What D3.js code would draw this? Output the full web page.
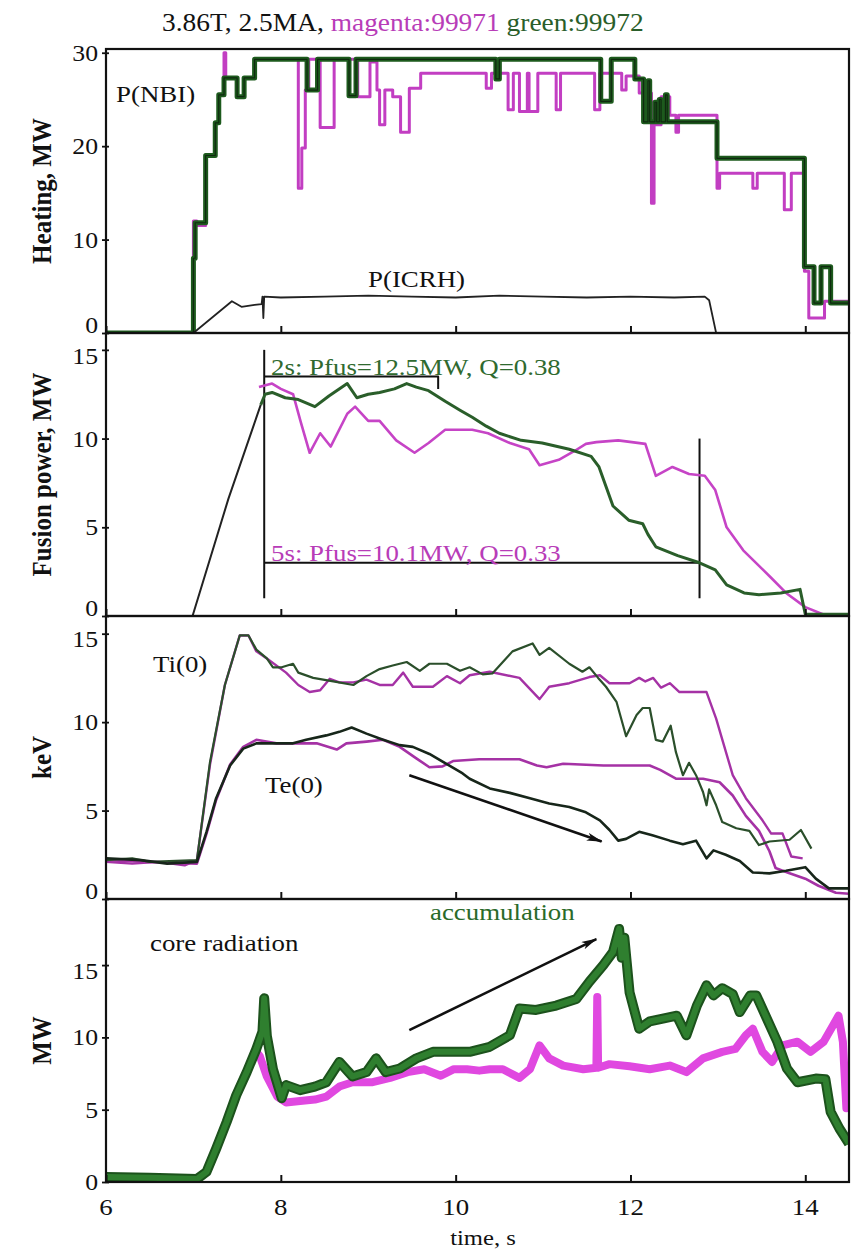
<!DOCTYPE html>
<html><head><meta charset="utf-8">
<script src="https://cdn.jsdelivr.net/npm/d3@7"></script>
<style>body{margin:0;background:#fff}svg{display:block}</style>
</head><body><svg id="c" width="851" height="1252"></svg>
<script>
// ---------- data ----------
const timeTicks = [6, 8, 10, 12, 14];
const heatTicks = [0, 10, 20, 30];
const fusTicks = [0, 5, 10, 15];
const kevTicks = [0, 5, 10, 15];
const radTicks = [0, 5, 10, 15];

// Panel 1: NBI power (step traces), ICRH
const nbiGreen = [[6,0],[7.0,8.0],[7.02,11.8],[7.14,19.0],[7.25,22.5],[7.29,25.5],[7.35,27.3],[7.5,25.3],[7.58,27.3],[7.70,29.3],[8.30,26.0],[8.42,29.3],[8.78,25.4],[8.86,29.3],[10.46,27.2],[10.5,29.3],[11.66,24.8],[11.78,29.3],[12.05,27.2],[12.15,22.6],[12.2,27.0],[12.22,22.6],[12.28,24.7],[12.3,22.6],[12.33,25.0],[12.35,22.6],[12.4,25.5],[12.42,22.6],[12.99,18.7],[13.99,7.1],[14.10,3.2],[14.18,7.1],[14.29,3.2],[14.5,3.2]];
const nbiMagenta = [[6,0],[7.0,12.0],[7.04,11.5],[7.14,19.0],[7.25,22.5],[7.29,25.5],[7.35,30.0],[7.37,27.3],[7.5,25.3],[7.58,27.3],[7.70,29.3],[8.20,15.5],[8.24,19.8],[8.28,26.0],[8.32,29.3],[8.45,22.0],[8.61,29.3],[8.88,25.3],[9.02,29.0],[9.10,26.0],[9.13,22.3],[9.19,26.0],[9.28,25.3],[9.37,21.5],[9.47,26.2],[9.60,27.8],[10.35,26.2],[10.41,27.8],[10.60,23.9],[10.66,27.8],[10.73,23.7],[10.82,27.8],[10.84,23.7],[10.94,27.8],[11.15,23.9],[11.20,27.8],[11.59,23.9],[11.65,27.8],[11.9,26.0],[11.95,27.5],[12.1,25.7],[12.24,13.9],[12.27,22.3],[12.35,25.3],[12.45,23.3],[12.52,21.5],[12.55,23.3],[12.99,15.5],[13.02,17.1],[13.40,15.5],[13.45,17.1],[13.76,13.2],[13.84,17.1],[13.99,6.6],[14.04,1.6],[14.22,3.4],[14.5,3.4]];
const icrh = [[7.0,0],[7.44,3.4],[7.55,2.8],[7.7,3.0],[7.78,3.1],[7.79,3.9],[7.8,1.6],[7.81,3.9],[8.0,3.8],[8.5,3.9],[9.0,4.0],[9.5,3.9],[10.0,3.8],[10.5,4.0],[11.0,3.9],[11.5,3.8],[12.0,3.9],[12.5,3.8],[12.85,3.9],[12.9,3.5],[12.98,0]];

// Panel 2: fusion power
const fusRise = [[6.99,0],[7.4,6.6],[7.77,11.9]];
const fusGreen = [[7.77,11.9],[7.82,12.5],[7.9,12.6],[8.05,12.3],[8.2,12.2],[8.39,11.8],[8.55,12.4],[8.76,13.1],[8.87,12.3],[9.0,12.5],[9.13,12.6],[9.3,12.8],[9.44,13.1],[9.55,12.9],[9.69,12.7],[9.88,12.1],[10.05,11.6],[10.19,11.2],[10.35,10.7],[10.5,10.3],[10.75,9.9],[10.99,9.75],[11.3,9.4],[11.55,9.0],[11.64,8.4],[11.72,7.3],[11.8,6.2],[11.98,5.4],[12.14,5.2],[12.2,4.6],[12.29,3.9],[12.54,3.4],[12.79,3.0],[12.97,2.6],[13.1,1.75],[13.3,1.3],[13.47,1.2],[13.72,1.3],[13.94,1.5],[14.0,0.1],[14.5,0.1]];
const fusMagenta = [[7.75,12.9],[7.9,13.1],[8.0,12.8],[8.14,12.5],[8.23,10.9],[8.33,9.2],[8.45,10.3],[8.57,9.55],[8.76,11.4],[8.85,11.8],[9.0,11.0],[9.13,11.0],[9.32,9.9],[9.53,9.2],[9.69,9.75],[9.88,10.5],[10.19,10.5],[10.37,10.3],[10.62,9.75],[10.84,9.4],[10.96,8.5],[11.18,8.8],[11.36,9.3],[11.49,9.7],[11.61,9.8],[11.86,9.9],[12.17,9.7],[12.29,7.9],[12.48,8.4],[12.67,8.0],[12.85,7.9],[12.97,7.1],[13.1,5.0],[13.29,3.7],[13.6,2.2],[13.78,1.3],[14.0,0.5],[14.2,0.1]];
const fusBrackets = [
  [[7.81,15.0],[7.81,1.0]],
  [[7.81,13.5],[9.80,13.5],[9.80,12.8]],
  [[7.81,3.0],[12.79,3.0]],
  [[12.79,10.0],[12.79,1.0]]
];

// Panel 3: Ti(0), Te(0)
const tiGreen = [[6,2.2],[6.3,2.3],[6.5,2.1],[6.8,2.15],[7.04,2.2],[7.19,7.75],[7.36,12.1],[7.53,14.9],[7.63,14.9],[7.72,14.1],[7.84,13.6],[7.91,13.1],[8.01,13.1],[8.14,13.3],[8.2,12.8],[8.37,12.5],[8.6,12.3],[8.83,12.1],[8.98,12.6],[9.13,13.0],[9.28,13.2],[9.44,13.4],[9.59,12.9],[9.7,13.3],[9.9,13.3],[10.05,12.9],[10.16,13.1],[10.31,12.7],[10.42,12.75],[10.65,14.0],[10.88,14.45],[10.96,13.8],[11.07,14.2],[11.3,13.3],[11.45,12.85],[11.53,13.1],[11.63,12.5],[11.72,12.0],[11.84,11.15],[11.95,9.2],[12.07,10.4],[12.14,10.8],[12.22,10.8],[12.29,9.0],[12.37,8.9],[12.46,9.8],[12.52,8.3],[12.6,7.0],[12.67,7.7],[12.75,7.0],[12.83,6.05],[12.87,5.3],[12.9,6.2],[12.98,5.3],[13.05,4.35],[13.21,4.0],[13.36,3.85],[13.47,3.05],[13.59,3.25],[13.82,3.35],[13.95,3.9],[14.07,2.85]];
const tiMagenta = [[6,2.1],[6.3,2.0],[6.6,2.1],[6.9,1.9],[7.04,2.2],[7.19,7.6],[7.36,12.1],[7.53,14.9],[7.63,14.9],[7.72,14.0],[7.84,13.6],[8.06,12.8],[8.2,12.1],[8.33,11.7],[8.45,11.8],[8.56,12.45],[8.67,12.25],[8.83,12.25],[8.98,12.4],[9.13,12.1],[9.28,12.1],[9.4,12.8],[9.51,12.0],[9.74,12.0],[9.9,12.6],[10.05,12.2],[10.16,12.65],[10.39,12.85],[10.73,12.5],[10.96,11.3],[11.07,12.0],[11.3,12.2],[11.53,12.55],[11.65,12.65],[11.76,12.2],[11.99,12.2],[12.1,12.5],[12.17,12.3],[12.26,12.5],[12.35,11.95],[12.45,12.2],[12.56,11.7],[12.87,11.7],[12.98,10.2],[13.17,7.0],[13.32,5.7],[13.51,4.45],[13.61,3.7],[13.74,3.7],[13.84,2.4],[13.97,2.3]];
const teGreen = [[6,2.3],[6.4,2.2],[6.7,2.0],[7.04,2.1],[7.15,3.8],[7.26,5.7],[7.42,7.55],[7.57,8.5],[7.72,8.8],[7.91,8.8],[8.14,8.8],[8.29,9.0],[8.52,9.25],[8.67,9.45],[8.81,9.7],[8.98,9.35],[9.17,9.0],[9.36,8.7],[9.51,8.6],[9.7,8.2],[9.89,7.65],[10.08,7.1],[10.16,6.8],[10.39,6.25],[10.62,6.0],[10.85,5.7],[11.07,5.4],[11.3,5.2],[11.49,4.9],[11.65,4.45],[11.76,3.9],[11.86,3.3],[11.95,3.4],[12.1,3.8],[12.25,3.6],[12.45,3.3],[12.6,3.1],[12.75,3.3],[12.87,2.3],[12.95,2.75],[13.09,2.5],[13.25,2.15],[13.4,1.5],[13.59,1.45],[13.78,1.6],[14.0,1.8],[14.12,1.15],[14.27,0.6],[14.5,0.6]];
const teMagenta = [[6,2.2],[6.5,2.1],[7.04,2.0],[7.15,3.7],[7.26,5.6],[7.42,7.6],[7.57,8.6],[7.72,9.0],[7.95,8.8],[8.2,8.8],[8.41,8.8],[8.64,8.45],[8.75,8.8],[8.98,8.9],[9.17,9.0],[9.36,8.6],[9.55,7.95],[9.7,7.45],[9.85,7.5],[9.97,7.8],[10.27,7.9],[10.73,7.9],[10.93,7.55],[11.04,7.45],[11.23,7.65],[11.69,7.55],[12.22,7.55],[12.34,7.3],[12.52,6.8],[12.83,6.8],[13.02,6.6],[13.17,5.85],[13.32,4.7],[13.47,3.85],[13.59,2.7],[13.66,1.75],[13.82,1.45],[14.0,1.15],[14.15,0.75],[14.35,0.35],[14.5,0.3]];
const teArrow = [[9.47,7.0],[11.67,3.25]];

// Panel 4: core radiation
const radGreen = [[6,0.35],[6.5,0.3],[7.04,0.2],[7.15,0.7],[7.26,2.3],[7.38,4.15],[7.49,6.0],[7.61,7.6],[7.72,9.2],[7.79,10.4],[7.81,12.7],[7.84,10.1],[7.91,7.8],[8.01,5.8],[8.06,6.7],[8.22,6.35],[8.39,6.6],[8.52,6.9],[8.67,8.3],[8.82,7.3],[8.98,7.6],[9.09,8.55],[9.2,7.6],[9.36,7.85],[9.55,8.55],[9.74,9.0],[9.94,9.0],[10.16,9.0],[10.39,9.35],[10.62,10.15],[10.73,12.0],[10.92,11.9],[11.15,12.2],[11.38,12.65],[11.53,13.85],[11.69,15.0],[11.8,15.9],[11.87,17.5],[11.9,15.5],[11.93,16.9],[11.99,13.1],[12.1,10.6],[12.22,11.1],[12.37,11.3],[12.53,11.5],[12.64,10.15],[12.76,12.2],[12.87,13.6],[12.95,12.9],[13.05,13.4],[13.17,13.0],[13.25,11.75],[13.37,12.9],[13.44,12.9],[13.56,11.3],[13.68,9.7],[13.79,7.85],[13.91,6.9],[14.12,7.15],[14.23,7.1],[14.29,4.85],[14.39,3.7],[14.5,2.65]];
const radMagenta = [[7.72,9.0],[7.76,8.7],[7.84,7.3],[7.96,5.9],[8.06,5.5],[8.22,5.6],[8.39,5.7],[8.52,5.9],[8.67,6.6],[8.82,6.9],[9.05,6.9],[9.25,7.2],[9.45,7.6],[9.64,7.8],[9.83,7.35],[9.98,7.8],[10.13,7.8],[10.27,7.7],[10.39,7.8],[10.54,7.8],[10.73,7.2],[10.85,7.8],[10.96,9.45],[11.07,8.55],[11.23,8.05],[11.46,7.8],[11.61,7.9],[11.62,12.8],[11.63,7.9],[11.76,8.15],[11.99,8.0],[12.22,7.8],[12.45,8.05],[12.64,7.6],[12.83,8.55],[13.05,9.0],[13.2,9.2],[13.32,10.15],[13.4,10.6],[13.51,9.0],[13.62,8.3],[13.74,9.45],[13.91,9.7],[14.06,9.0],[14.21,9.7],[14.32,10.85],[14.38,11.5],[14.43,9.7],[14.47,5.1],[14.5,7.0]];
const radArrow = [[9.47,10.5],[11.61,16.8]];

// ---------- drawing ----------
const SX = 1.12;               // horizontal text stretch of the original figure
const SERIF = "'Liberation Serif','Times New Roman',serif";
const MAG = "#c23ec2";
const svg = d3.select("#c");
const x = d3.scaleLinear().domain([6, 14.5]).range([106, 849]);

const defs = svg.append("defs");
defs.append("marker").attr("id","arr").attr("markerUnits","userSpaceOnUse")
  .attr("viewBox","0 0 16 8").attr("refX",15).attr("refY",4)
  .attr("markerWidth",16).attr("markerHeight",8).attr("orient","auto")
  .append("path").attr("d","M0,0 L16,4 L0,8 L4,4 Z").attr("fill","#111");

function txt(g, px, py, str, o = {}) {
  const t = g.append("text")
    .attr("transform", `translate(${px},${py}) ${o.rot ? "rotate(-90) scale(1," + SX + ")" : "scale(" + SX + ",1)"}`)
    .attr("font-family", SERIF).attr("font-size", o.size || 24)
    .attr("font-weight", o.weight || "normal")
    .attr("fill", o.fill || "#111").attr("text-anchor", o.anchor || "start");
  if (o.dy) t.attr("dy", o.dy);
  t.text(str);
  return t;
}

const panels = [
  { top: 49, bottom: 333, max: 30.4, ticks: heatTicks, title: "Heating, MW" },
  { top: 333, bottom: 616, max: 15.95, ticks: fusTicks, title: "Fusion power, MW" },
  { top: 616, bottom: 899, max: 16.0, ticks: kevTicks, title: "keV" },
  { top: 899, bottom: 1182, max: 19.57, ticks: radTicks, title: "MW" }
];

panels.forEach((p, i) => {
  p.y = d3.scaleLinear().domain([0, p.max]).range([p.bottom, p.top]);
  p.g = svg.append("g");
  defs.append("clipPath").attr("id", "clip" + i).append("rect")
    .attr("x", 106).attr("y", p.top).attr("width", 743).attr("height", p.bottom - p.top);
  p.plot = p.g.append("g").attr("clip-path", `url(#clip${i})`);
  p.line = d3.line().x(d => x(d[0])).y(d => p.y(d[1]));
});

function draw(p, data, color, width, curve) {
  const ln = curve ? p.line.curve(curve) : p.line.curve(d3.curveLinear);
  p.plot.append("path").datum(data).attr("d", ln).attr("fill", "none")
    .attr("stroke", color).attr("stroke-width", width)
    .attr("stroke-linejoin", "round").attr("stroke-linecap", "butt");
  p.line.curve(d3.curveLinear);
}

// Panel 1
const P1 = panels[0];
draw(P1, nbiMagenta, MAG, 3, d3.curveStepAfter);
draw(P1, nbiGreen, "#1d5a1d", 5, d3.curveStepAfter);
draw(P1, nbiGreen, "#0f2a0f", 1.2, d3.curveStepAfter);
draw(P1, icrh, "#222", 1.8);
txt(P1.g, 116, 102, "P(NBI)");
txt(P1.g, 368, 287, "P(ICRH)");

// Panel 2
const P2 = panels[1];
fusBrackets.forEach(b => draw(P2, b, "#111", 2));
draw(P2, fusRise, "#222", 2);
draw(P2, fusMagenta, "#c644c6", 2.6);
draw(P2, fusGreen, "#2a5e2a", 3);
txt(P2.g, 271, 375, "2s: Pfus=12.5MW, Q=0.38", { fill: "#2f6a2f" });
txt(P2.g, 271, 561, "5s: Pfus=10.1MW, Q=0.33", { fill: "#b83cb8" });

// Panel 3
const P3 = panels[2];
draw(P3, tiMagenta, "#a532a5", 2.4);
draw(P3, teMagenta, "#a532a5", 2.6);
draw(P3, tiGreen, "#2b4f2b", 2.2);
draw(P3, teGreen, "#17261a", 2.6);
P3.plot.append("path").datum(teArrow).attr("d", P3.line).attr("stroke", "#111")
  .attr("stroke-width", 2.6).attr("fill", "none").attr("marker-end", "url(#arr)");
txt(P3.g, 153, 672, "Ti(0)");
txt(P3.g, 265, 793, "Te(0)");

// Panel 4
const P4 = panels[3];
draw(P4, radMagenta, "#e048e0", 8);
draw(P4, radGreen, "#1c521c", 10);
draw(P4, radGreen, "#2f7f2f", 6);
P4.plot.append("path").datum(radArrow).attr("d", P4.line).attr("stroke", "#111")
  .attr("stroke-width", 2.6).attr("fill", "none").attr("marker-end", "url(#arr)");
txt(P4.g, 150, 951, "core radiation");
txt(P4.g, 430, 920, "accumulation", { fill: "#2a6a2a" });

// axes, frames, labels
panels.forEach((p, i) => {
  const ya = d3.axisLeft(p.y).tickValues(p.ticks).tickSize(4).tickFormat("");
  const yg = p.g.append("g").attr("transform", "translate(106,0)").call(ya);
  yg.select(".domain").remove();
  yg.selectAll(".tick line").attr("x1", 3).attr("stroke", "#111").attr("stroke-width", 1.8);
  const last = p.ticks[p.ticks.length - 1];
  p.ticks.forEach(v => txt(p.g, 98, p.y(v), String(v), {
    anchor: "end", size: 23,
    dy: (v === 0 && i < 3) ? "0.02em" : (v === last && i > 0 ? "0.6em" : "0.35em")
  }));

  const xa = d3.axisBottom(x).tickValues(timeTicks).tickSize(-7).tickFormat("");
  const xg = p.g.append("g").attr("transform", `translate(0,${p.bottom})`).call(xa);
  xg.select(".domain").remove();
  xg.selectAll(".tick line").attr("stroke", "#111").attr("stroke-width", 2);

  p.g.append("rect").attr("x", 106).attr("y", p.top).attr("width", 743)
    .attr("height", p.bottom - p.top).attr("fill", "none")
    .attr("stroke", "#111").attr("stroke-width", 2.2);

  txt(p.g, 41, (p.top + p.bottom) / 2, p.title, { rot: true, anchor: "middle", weight: "bold", size: 25, dy: "0.35em" });
});

// bottom x labels
timeTicks.forEach(t => txt(svg, x(t), 1215, String(t), { anchor: "middle" }));
txt(svg, 483, 1245, "time, s", { anchor: "middle", size: 22 });

// title
const tt = svg.append("text").attr("transform", `translate(162,31) scale(${SX},1)`)
  .attr("font-family", SERIF).attr("font-size", 24.5);
tt.append("tspan").attr("fill", "#111").text("3.86T, 2.5MA, ");
tt.append("tspan").attr("fill", "#b83cb8").text("magenta:99971");
tt.append("tspan").attr("fill", "#2a5e2a").text(" green:99972");
</script></body></html>
